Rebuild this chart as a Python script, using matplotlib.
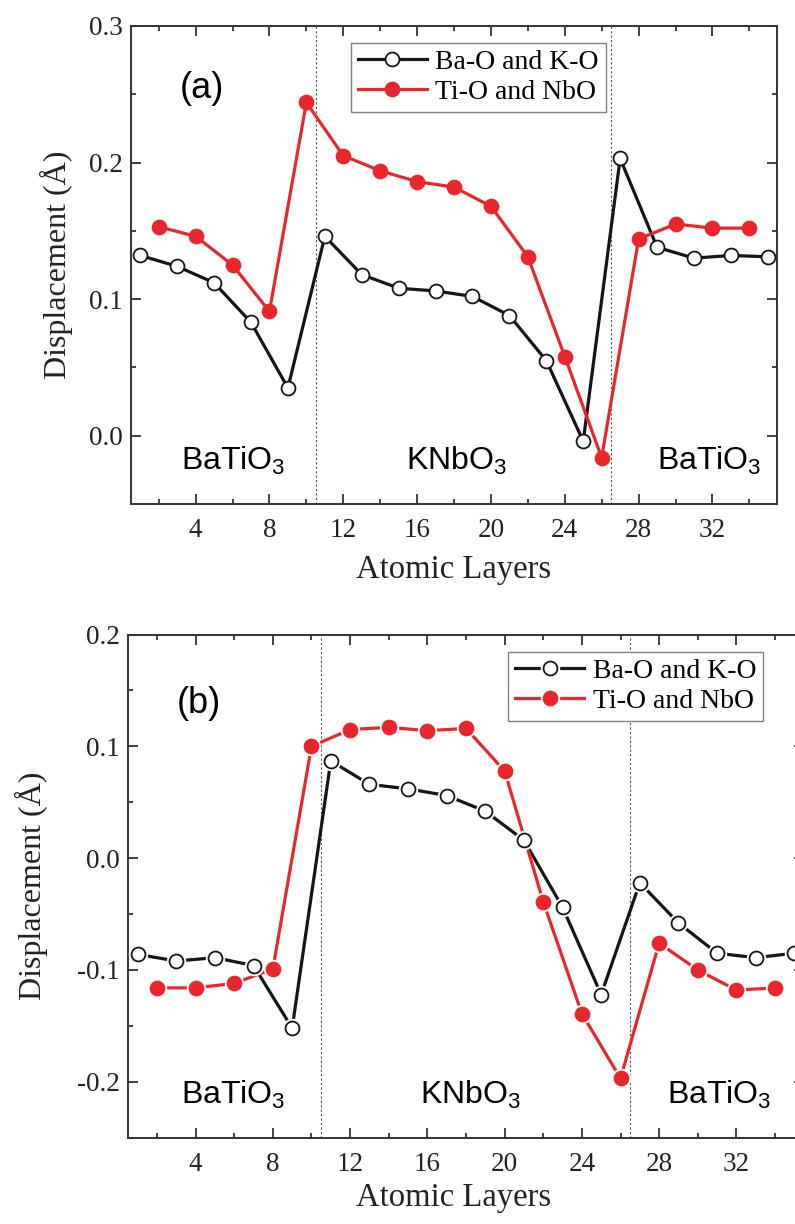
import matplotlib
matplotlib.use("Agg")
import matplotlib.pyplot as plt
from matplotlib.ticker import MultipleLocator, FormatStrFormatter
from matplotlib.legend_handler import HandlerTuple

# layer indices
x_ao = [1, 3, 5, 7, 9, 11, 13, 15, 17, 19, 21, 23, 25, 27, 29, 31, 33, 35]
x_bo = [2, 4, 6, 8, 10, 12, 14, 16, 18, 20, 22, 24, 26, 28, 30, 32, 34]

# panel (a)
a_ao = [0.132, 0.124, 0.112, 0.083, 0.035, 0.146, 0.118, 0.108, 0.106,
        0.102, 0.088, 0.055, -0.004, 0.203, 0.138, 0.130, 0.132, 0.131]
a_bo = [0.153, 0.146, 0.125, 0.091, 0.244, 0.205, 0.194, 0.186, 0.182,
        0.168, 0.131, 0.058, -0.016, 0.144, 0.155, 0.152, 0.152]

# panel (b)
b_ao = [-0.086, -0.092, -0.089, -0.096, -0.152, 0.087, 0.066, 0.062, 0.056,
        0.042, 0.016, -0.044, -0.122, -0.022, -0.058, -0.085, -0.089, -0.085]
b_bo = [-0.116, -0.116, -0.112, -0.099, 0.100, 0.115, 0.117, 0.114, 0.116,
        0.078, -0.039, -0.139, -0.197, -0.076, -0.100, -0.118, -0.116]

boundaries = [10.5, 26.5]
region_labels = ['BaTiO$_3$', 'KNbO$_3$', 'BaTiO$_3$']
series_names = ['Ba-O and K-O', 'Ti-O and NbO']

RED = '#e8262b'
BLACK = '#151515'
SERIF = 'Liberation Serif'
SANS = 'Liberation Sans'

plt.rcParams['font.family'] = [SERIF, 'DejaVu Serif']
plt.rcParams['mathtext.default'] = 'regular'

fig = plt.figure(figsize=(7.95, 12.24), dpi=100)
ax1 = fig.add_axes([0.1648, 0.5882, 0.8126, 0.3906])
ax2 = fig.add_axes([0.1610, 0.0705, 0.8503, 0.4111])


def style(ax, ylim):
    ax.set_xlim(0.5, 35.5)
    ax.set_ylim(*ylim)
    ax.xaxis.set_major_locator(MultipleLocator(4))
    ax.xaxis.set_minor_locator(MultipleLocator(2))
    ax.yaxis.set_major_locator(MultipleLocator(0.1))
    ax.yaxis.set_minor_locator(MultipleLocator(0.05))
    ax.yaxis.set_major_formatter(FormatStrFormatter('%.1f'))
    ax.tick_params(which='both', direction='in', top=True, right=True,
                   width=1.3, labelsize=19.5, colors='#333333',
                   labelcolor='#222222')
    ax.tick_params(which='major', length=7)
    ax.tick_params(which='minor', length=3.6)
    ax.tick_params(axis='x', which='major', pad=10)
    ax.tick_params(axis='y', which='major', pad=6)
    for s in ax.spines.values():
        s.set_linewidth(1.4)
        s.set_color('#333333')
    ax.set_xlabel('Atomic Layers', fontsize=23.5, labelpad=8, color='#222222')
    ax.set_ylabel('Displacement (Å)', fontsize=23, color='#222222')
    for b in boundaries:
        ax.axvline(b, color='#555555', lw=0.8, ls=(0, (2, 2)), zorder=1)


def draw(ax, ao, bo, gap):
    handles = []
    for xs, ys, c, fc in [(x_ao, ao, BLACK, 'white'), (x_bo, bo, RED, RED)]:
        ln, = ax.plot(xs, ys, '-', color=c, lw=2.3, zorder=3)
        parts = [ln]
        if gap:
            # white ring so the line stops just short of each marker
            wr, = ax.plot(xs, ys, 'o', ls='none', ms=13, mfc='white',
                          mec='white', zorder=4)
            parts.append(wr)
        mk, = ax.plot(xs, ys, 'o', ls='none', ms=10, mfc=fc, mec=c,
                      mew=1.3, zorder=5)
        parts.append(mk)
        handles.append(tuple(parts))
    return handles


def legend(ax, handles, anchor):
    ax.legend(handles, series_names, loc='upper right', bbox_to_anchor=anchor,
              borderaxespad=0, fontsize=20, frameon=True, fancybox=False,
              edgecolor='#808080', framealpha=1, handlelength=2.5,
              handletextpad=0.3, borderpad=0.25, labelspacing=0.15,
              handler_map={tuple: HandlerTuple(ndivide=1, pad=0)})


# panel (a)
style(ax1, (-0.05, 0.3))
h1 = draw(ax1, a_ao, a_bo, False)
legend(ax1, h1, (0.735, 0.965))
ax1.yaxis.set_label_coords(-0.09, 0.5)
ax1.text(3.15, 0.254, '(a)', family=SANS, fontsize=26, va='center')
ax1.text(3.2, -0.025, region_labels[0], family=SANS, fontsize=23, va='baseline')
ax1.text(15.4, -0.025, region_labels[1], family=SANS, fontsize=23, va='baseline')
ax1.text(29.0, -0.025, region_labels[2], family=SANS, fontsize=23, va='baseline')

# panel (b)
style(ax2, (-0.25, 0.2))
h2 = draw(ax2, b_ao, b_bo, True)
legend(ax2, h2, (0.9395, 0.9656))
ax2.yaxis.set_label_coords(-0.118, 0.5)
ax2.xaxis.set_label_coords(0.482, -0.09)
ax2.text(3.0, 0.138, '(b)', family=SANS, fontsize=26, va='center')
ax2.text(3.24, -0.220, region_labels[0], family=SANS, fontsize=23, va='baseline')
ax2.text(15.6, -0.220, region_labels[1], family=SANS, fontsize=23, va='baseline')
ax2.text(28.4, -0.220, region_labels[2], family=SANS, fontsize=23, va='baseline')

fig.savefig('out.png', dpi=100)
